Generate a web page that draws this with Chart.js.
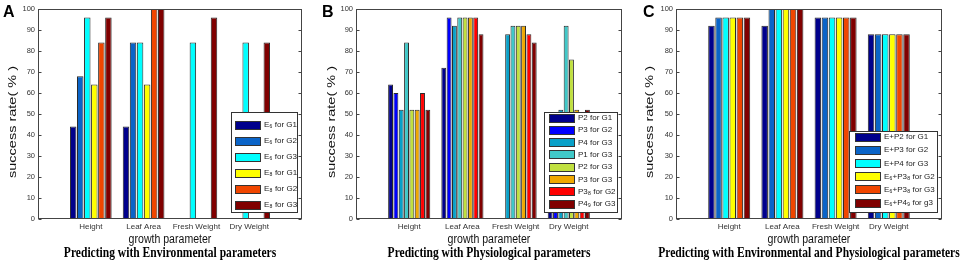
<!DOCTYPE html>
<html><head><meta charset="utf-8">
<script src="https://cdn.jsdelivr.net/npm/chart.js@4/dist/chart.umd.min.js"></script>
<style>
html,body{margin:0;padding:0;background:#fff;width:970px;height:263px;overflow:hidden;}
canvas{position:absolute;top:0;}
</style></head><body>
<canvas id="cA" width="320" height="263" style="left:0"></canvas>
<canvas id="cB" width="320" height="263" style="left:320px"></canvas>
<canvas id="cC" width="330" height="263" style="left:640px"></canvas>
<script>
// ---------- data ----------
const categories = ['Height', 'Leaf Area', 'Fresh Weight', 'Dry Weight'];
const yAxisTitle = 'success rate( % )';
const xAxisTitle = 'growth parameter';

// Panel A : environmental parameters
const labelsA = ['E\u2086 for G1', 'E\u2086 for G2', 'E\u2086 for G3', 'E\u2088 for G1', 'E\u2088 for G2', 'E\u2088 for G3'];
const A_E6_G1 = [44, 44, 0, 0];
const A_E6_G2 = [68, 84, 0, 0];
const A_E6_G3 = [96, 84, 84, 84];
const A_E8_G1 = [64, 64, 0, 0];
const A_E8_G2 = [84, 100, 0, 0];
const A_E8_G3 = [96, 100, 96, 84];

// Panel B : physiological parameters
const labelsB = ['P2 for G1', 'P3 for G2', 'P4 for G3', 'P1 for G3', 'P2 for G3', 'P3 for G3', 'P3\u2088 for G2', 'P4\u2089 for G3'];
const B_P2_G1 = [64, 72, 0, 48];
const B_P3_G2 = [60, 96, 0, 48];
const B_P4_G3 = [52, 92, 88, 52];
const B_P1_G3 = [84, 96, 92, 92];
const B_P2_G3 = [52, 96, 92, 76];
const B_P3_G3 = [52, 96, 92, 52];
const B_P3s_G2 = [60, 96, 88, 48];
const B_P4s_G3 = [52, 88, 84, 52];

// Panel C : environmental + physiological parameters
const labelsC = ['E+P2 for G1', 'E+P3 for G2', 'E+P4 for G3', 'E\u2086+P3\u2088 for G2', 'E\u2086+P3\u2088 for G3', 'E\u2086+P4\u2089 for g3'];
const C_EP2_G1 = [92, 92, 96, 88];
const C_EP3_G2 = [96, 100, 96, 88];
const C_EP4_G3 = [96, 100, 96, 88];
const C_E6P3_G2 = [96, 100, 96, 88];
const C_E6P3_G3 = [96, 100, 96, 88];
const C_E6P4_g3 = [96, 100, 96, 88];

// ---------- styles ----------
const colA = ['#00008c', '#0a64c8', '#00ffff', '#ffff00', '#f04600', '#800000'];
const colB = ['#00008c', '#0000ff', '#08a0c8', '#40c8c8', '#c0e040', '#f0a800', '#ff0000', '#800000'];
const colC = ['#00008c', '#0a64c8', '#00ffff', '#ffff00', '#f04600', '#800000'];
const SANS = "'Liberation Sans', Arial, sans-serif";
const SERIF = "'Liberation Serif', 'Times New Roman', serif";

// padded x labels: empty slot on each side (axis limits 0..5)
const xLabels = [''].concat(categories, ['']);
const pad = arr => [null].concat(arr, [null]);

const deco = {
  id: 'deco',
  afterDraw(chart, args, o) {
    const ctx = chart.ctx, ca = chart.chartArea, ys = chart.scales.y;
    ctx.save();
    const L = Math.round(ca.left) + 0.5, R = Math.round(ca.right) - 0.5,
          T = Math.round(ca.top) + 0.5, B = Math.round(ca.bottom) - 0.5;
    // legend box
    const lg = o.legend;
    ctx.fillStyle = '#fff';
    ctx.fillRect(lg.x1, lg.y1, lg.x2 - lg.x1, lg.y2 - lg.y1);
    ctx.strokeStyle = '#333'; ctx.lineWidth = 1;
    ctx.strokeRect(lg.x1 + 0.5, lg.y1 + 0.5, lg.x2 - lg.x1, lg.y2 - lg.y1);
    const ds = chart.data.datasets, n = ds.length;
    const pitch = (lg.last - lg.first) / (n - 1);
    ds.forEach((d, i) => {
      const cy = lg.first + i * pitch;
      const sx = lg.x1 + lg.sw0, sw = 26, sh = 9;
      ctx.fillStyle = d.backgroundColor;
      ctx.fillRect(sx, Math.round(cy - sh / 2), sw, sh);
      ctx.strokeStyle = '#333';
      ctx.strokeRect(sx + 0.5, Math.round(cy - sh / 2) + 0.5, sw - 1, sh - 1);
      ctx.fillStyle = '#222';
      ctx.font = '8px ' + SANS;
      ctx.textBaseline = 'middle'; ctx.textAlign = 'left';
      ctx.fillText(d.label, sx + sw + 3, cy);
    });
    // frame + inward ticks
    ctx.strokeStyle = '#444'; ctx.lineWidth = 1;
    ctx.strokeRect(L, T, R - L, B - T);
    ctx.beginPath();
    ys.ticks.forEach(t => {
      const y = Math.round(ys.getPixelForValue(t.value)) + 0.5;
      ctx.moveTo(L, y); ctx.lineTo(L + 3, y);
      ctx.moveTo(R, y); ctx.lineTo(R - 3, y);
    });
    ctx.stroke();
    // y axis title (rotated)
    ctx.fillStyle = '#111';
    ctx.save();
    ctx.translate(o.yTitleX, (ca.top + ca.bottom) / 2 + 8);
    ctx.rotate(-Math.PI / 2);
    ctx.scale(1, 0.75);
    ctx.font = '14.5px ' + SANS;
    ctx.textAlign = 'center'; ctx.textBaseline = 'middle';
    ctx.fillText(yAxisTitle, 0, 0);
    ctx.restore();
    // x axis title
    const cx = (ca.left + ca.right) / 2;
    ctx.save();
    ctx.translate(cx, 240);
    ctx.scale(0.88, 1);
    ctx.font = '12px ' + SANS;
    ctx.textAlign = 'center'; ctx.textBaseline = 'middle';
    ctx.fillText(xAxisTitle, 0, 0);
    ctx.restore();
    // bottom title
    ctx.save();
    ctx.translate(cx, 253.5);
    ctx.scale(0.77, 1);
    ctx.font = 'bold 15px ' + SERIF;
    ctx.fillStyle = '#000';
    ctx.textAlign = 'center'; ctx.textBaseline = 'middle';
    ctx.fillText(o.title, 0, 0);
    ctx.restore();
    // panel letter
    ctx.font = 'bold 16px ' + SANS;
    ctx.fillStyle = '#000';
    ctx.textAlign = 'left'; ctx.textBaseline = 'alphabetic';
    ctx.fillText(o.letter, o.letterX, 17);
    ctx.restore();
  }
};

function makePanel(id, labels, series, colors, opts) {
  new Chart(document.getElementById(id), {
    type: 'bar',
    data: {
      labels: xLabels,
      datasets: series.map((s, i) => ({
        label: labels[i], data: pad(s), backgroundColor: colors[i],
        borderColor: '#2a2a2a', borderWidth: 1, borderSkipped: 'start',
        categoryPercentage: 0.8, barPercentage: 0.92
      }))
    },
    options: {
      responsive: false, animation: false, devicePixelRatio: 1,
      layout: { padding: { left: 0, top: 9, right: opts.right, bottom: 0 } },
      plugins: { legend: { display: false }, tooltip: { enabled: false }, deco: opts.deco },
      scales: {
        x: {
          type: 'category', offset: false,
          grid: { display: false, drawTicks: false }, border: { display: false },
          ticks: { autoSkip: false, maxRotation: 0, minRotation: 0, padding: 3, color: '#333', font: { size: 8, family: SANS } },
          afterFit: s => { s.height = 44; }
        },
        y: {
          min: 0, max: 100,
          grid: { display: false, drawTicks: false }, border: { display: false },
          ticks: { stepSize: 10, padding: 3, color: '#333', font: { size: 7.5, family: SANS } },
          afterFit: s => { s.width = opts.left; }
        }
      }
    },
    plugins: [deco]
  });
}

makePanel('cA', labelsA, [A_E6_G1, A_E6_G2, A_E6_G3, A_E8_G1, A_E8_G2, A_E8_G3], colA, {
  left: 38, right: 18,
  deco: { letter: 'A', letterX: 3, yTitleX: 13, title: 'Predicting with Environmental parameters',
          legend: { x1: 231, y1: 112, x2: 297, y2: 212, first: 125, last: 205, sw0: 4 } }
});
makePanel('cB', labelsB, [B_P2_G1, B_P3_G2, B_P4_G3, B_P1_G3, B_P2_G3, B_P3_G3, B_P3s_G2, B_P4s_G3], colB, {
  left: 36, right: 18,
  deco: { letter: 'B', letterX: 2, yTitleX: 12, title: 'Predicting with Physiological parameters',
          legend: { x1: 224, y1: 112, x2: 297, y2: 212, first: 118, last: 204, sw0: 5 } }
});
makePanel('cC', labelsC, [C_EP2_G1, C_EP3_G2, C_EP4_G3, C_E6P3_G2, C_E6P3_G3, C_E6P4_g3], colC, {
  left: 36, right: 28,
  deco: { letter: 'C', letterX: 3, yTitleX: 10, title: 'Predicting with Environmental and Physiological parameters',
          legend: { x1: 209, y1: 131, x2: 297, y2: 212, first: 137, last: 203, sw0: 6 } }
});
</script>
</body></html>
